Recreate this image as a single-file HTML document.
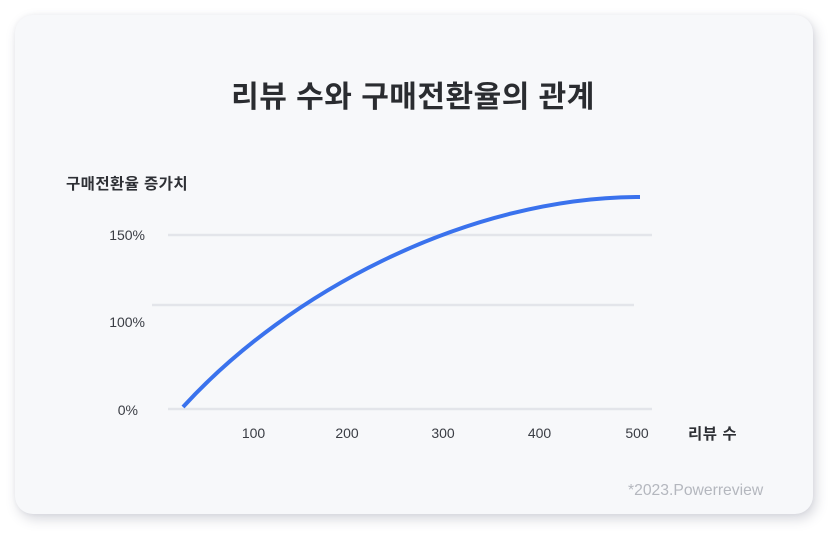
<!DOCTYPE html>
<html>
<head>
<meta charset="utf-8">
<style>
  html, body { margin:0; padding:0; background:#ffffff; }
  body { width:838px; height:540px; position:relative; overflow:hidden; }
  .card {
    position:absolute; left:15px; top:15px; width:798px; height:499px;
    background:#f7f8fa; border-radius:18px;
    box-shadow: 3px 5px 12px rgba(70,75,100,0.22), 0 0 4px rgba(70,75,100,0.06);
  }
  svg { position:absolute; left:0; top:0; }
</style>
</head>
<body>
<div class="card"></div>
<svg width="838" height="540" viewBox="0 0 838 540" xmlns="http://www.w3.org/2000/svg">
  <!-- title -->
  <text x="413" y="107" text-anchor="middle" font-family="'Liberation Sans','Noto Sans CJK KR',sans-serif" font-size="30" font-weight="700" letter-spacing="0.5" fill="#2a2c30">리뷰 수와 구매전환율의 관계</text>

  <!-- y-axis title -->
  <text x="66" y="189" font-family="'Liberation Sans','Noto Sans CJK KR',sans-serif" font-size="15.5" font-weight="700" letter-spacing="0.4" fill="#2e3035">구매전환율 증가치</text>

  <!-- gridlines -->
  <line x1="168" y1="235" x2="652" y2="235" stroke="#e3e5ea" stroke-width="2.5"/>
  <line x1="152" y1="305" x2="634" y2="305" stroke="#e3e5ea" stroke-width="2.5"/>
  <line x1="168" y1="409" x2="652" y2="409" stroke="#e3e5ea" stroke-width="2.5"/>

  <!-- y labels -->
  <g font-family="'Liberation Sans',sans-serif" font-size="14" fill="#3a3d44">
    <text x="145" y="240" text-anchor="end">150%</text>
    <text x="145" y="327" text-anchor="end">100%</text>
    <text x="138" y="415" text-anchor="end">0%</text>
  </g>

  <!-- x labels -->
  <g font-family="'Liberation Sans',sans-serif" font-size="14" fill="#3a3d44" text-anchor="middle">
    <text x="253.5" y="438">100</text>
    <text x="347" y="438">200</text>
    <text x="443" y="438">300</text>
    <text x="539.5" y="438">400</text>
    <text x="637" y="438">500</text>
  </g>
  <text x="688" y="439" font-family="'Liberation Sans','Noto Sans CJK KR',sans-serif" font-size="15.5" font-weight="700" letter-spacing="0.5" fill="#2e3035">리뷰 수</text>

  <!-- curve -->
  <path fill="none" stroke="#3a72ed" stroke-width="4" stroke-linecap="butt"
    d="M183,407 C290,290 470,197 640,197"/>

  <!-- footnote -->
  <text x="628" y="495" font-family="'Liberation Sans',sans-serif" font-size="15.7" fill="#b4b7be">*2023.Powerreview</text>
</svg>
</body>
</html>
